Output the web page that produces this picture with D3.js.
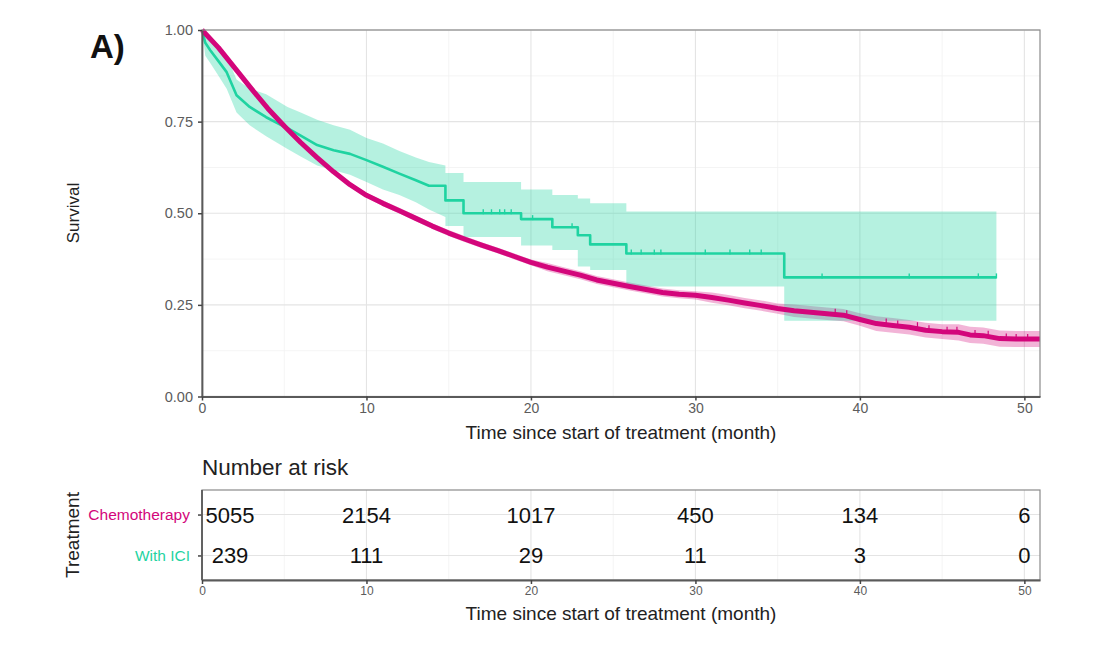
<!DOCTYPE html>
<html>
<head>
<meta charset="utf-8">
<script src="https://cdn.jsdelivr.net/npm/d3@7"></script>
<style>
  body { margin: 0; background: #fff; }
  text { font-family: "Liberation Sans", Arial, sans-serif; }
</style>
</head>
<body>
<div id="chart"></div>
<script>
// Courbe Chemotherapy
const chemoTime  = [0,1,2,3,4,5,6,7,8,9,10,11,12,13,14,15,16,17,18,19,20,21,22,23,24,25,26,27,28,29,30,31,32,33,34,35,36,37,38,39,40,41,42,43,44,45,46,46.7,47.5,48.5,49.5,50.95];
const chemoSurv  = [1.0,0.952,0.896,0.84,0.786,0.738,0.693,0.652,0.613,0.578,0.549,0.527,0.507,0.486,0.465,0.446,0.429,0.413,0.398,0.382,0.366,0.353,0.342,0.331,0.318,0.309,0.300,0.292,0.284,0.279,0.276,0.270,0.263,0.255,0.248,0.240,0.234,0.230,0.226,0.222,0.210,0.199,0.194,0.189,0.181,0.177,0.175,0.168,0.166,0.158,0.157,0.157];
const chemoLower = [1.0,0.948,0.890,0.834,0.780,0.732,0.687,0.646,0.607,0.572,0.543,0.519,0.499,0.478,0.457,0.438,0.421,0.405,0.390,0.374,0.358,0.342,0.331,0.320,0.307,0.298,0.289,0.281,0.273,0.268,0.265,0.256,0.249,0.241,0.234,0.226,0.217,0.213,0.209,0.205,0.193,0.179,0.174,0.169,0.161,0.157,0.153,0.146,0.144,0.136,0.135,0.135];
const chemoUpper = [1.0,0.956,0.902,0.846,0.792,0.744,0.699,0.658,0.619,0.584,0.555,0.535,0.515,0.494,0.473,0.454,0.437,0.421,0.406,0.390,0.374,0.364,0.353,0.342,0.329,0.320,0.311,0.303,0.295,0.290,0.287,0.284,0.277,0.269,0.262,0.254,0.251,0.247,0.243,0.239,0.227,0.219,0.214,0.209,0.201,0.197,0.197,0.190,0.188,0.180,0.179,0.179];
const chemoCensor = [38.5,39.2,41.6,42.3,43.5,44.2,45.3,45.9,47.0,47.8,48.9,49.5,50.2];

// Courbe With ICI (coins des marches répétés)
const iciTime  = [0,0.2,0.5,1,1.5,2.1,2.9,3.9,5.2,6,7,8,9,10,11,12,13,13.8,14.8,14.8,15.9,15.9,19.4,19.4,21.3,21.3,22.85,22.85,23.6,23.6,25.8,25.8,35.4,35.4,48.3];
const iciSurv  = [1,0.965,0.945,0.915,0.885,0.822,0.79,0.762,0.732,0.712,0.686,0.672,0.662,0.645,0.627,0.608,0.59,0.575,0.575,0.535,0.535,0.50,0.50,0.484,0.484,0.462,0.462,0.44,0.44,0.415,0.415,0.39,0.39,0.325,0.325];
const iciUpper = [1,0.99,0.975,0.955,0.93,0.865,0.84,0.825,0.79,0.775,0.755,0.74,0.728,0.705,0.69,0.67,0.652,0.64,0.63,0.61,0.61,0.585,0.585,0.565,0.565,0.55,0.55,0.54,0.54,0.527,0.527,0.505,0.505,0.505,0.505];
const iciLower = [1,0.93,0.91,0.875,0.84,0.775,0.74,0.71,0.675,0.655,0.63,0.617,0.605,0.585,0.565,0.55,0.53,0.51,0.49,0.465,0.465,0.435,0.435,0.412,0.412,0.40,0.40,0.355,0.355,0.345,0.345,0.30,0.30,0.207,0.207];
const iciCensor = [17.1,17.6,18.1,18.4,18.8,20.1,22.5,26.1,26.7,27.5,27.9,30.6,32.1,33.3,34.0,37.7,43.0,47.2,48.3];

// Tableau des effectifs à risque
const groups = ["Chemotherapy", "With ICI"];
const riskTimes = [0, 10, 20, 30, 40, 50];
const chemoRisk = [5055, 2154, 1017, 450, 134, 6];
const iciRisk = [239, 111, 29, 11, 3, 0];

const xTicks = [0, 10, 20, 30, 40, 50];
const yTicks = [0, 0.25, 0.5, 0.75, 1];

const colors = { chemo: "#d3067b", ici: "#1fd3a1" };

const W = 1115, H = 647;
const svg = d3.select("#chart").append("svg")
    .attr("width", W).attr("height", H);
svg.append("rect").attr("width", W).attr("height", H).attr("fill", "#fff");

const x = d3.scaleLinear().domain([0, 50.95]).range([202, 1040]);
const y = d3.scaleLinear().domain([0, 1]).range([396.5, 30]);

// Grille du graphique principal
const grid = svg.append("g");
d3.range(5, 50, 10).forEach(t => {
    grid.append("line").attr("x1", x(t)).attr("x2", x(t)).attr("y1", y(0)).attr("y2", y(1))
        .attr("stroke", "#f1f1f1").attr("stroke-width", 0.8);
});
[0.125, 0.375, 0.625, 0.875].forEach(v => {
    grid.append("line").attr("x1", x(0)).attr("x2", x.range()[1]).attr("y1", y(v)).attr("y2", y(v))
        .attr("stroke", "#f1f1f1").attr("stroke-width", 0.8);
});
xTicks.forEach(t => {
    grid.append("line").attr("x1", x(t)).attr("x2", x(t)).attr("y1", y(0)).attr("y2", y(1))
        .attr("stroke", "#e4e4e4").attr("stroke-width", 1.1);
});
yTicks.forEach(v => {
    grid.append("line").attr("x1", x(0)).attr("x2", x.range()[1]).attr("y1", y(v)).attr("y2", y(v))
        .attr("stroke", "#e4e4e4").attr("stroke-width", 1.1);
});

// Bandes de confiance
const chemoPts = chemoTime.map((t, i) => ({ t, s: chemoSurv[i], lo: chemoLower[i], hi: chemoUpper[i] }));
const iciPts = iciTime.map((t, i) => ({ t, s: iciSurv[i], lo: iciLower[i], hi: iciUpper[i] }));

const band = d3.area().x(d => x(d.t)).y0(d => y(d.lo)).y1(d => y(d.hi));
svg.append("path").datum(chemoPts).attr("d", band)
    .attr("fill", colors.chemo).attr("fill-opacity", 0.3);
svg.append("path").datum(iciPts).attr("d", band)
    .attr("fill", colors.ici).attr("fill-opacity", 0.33);

// Courbes
const line = d3.line().x(d => x(d.t)).y(d => y(d.s));
svg.append("path").datum(iciPts).attr("d", line)
    .attr("fill", "none").attr("stroke", colors.ici).attr("stroke-width", 2.6)
    .attr("stroke-linejoin", "round");
svg.append("path").datum(chemoPts).attr("d", line)
    .attr("fill", "none").attr("stroke", colors.chemo).attr("stroke-width", 5)
    .attr("stroke-linejoin", "round");

// Marques de censure
function stepValue(times, vals, t) {
    let v = vals[0];
    for (let i = 0; i < times.length; i++) if (times[i] <= t) v = vals[i];
    return v;
}
iciCensor.forEach(t => {
    const s = stepValue(iciTime, iciSurv, t);
    svg.append("line").attr("x1", x(t)).attr("x2", x(t)).attr("y1", y(s) - 4).attr("y2", y(s) + 1)
        .attr("stroke", colors.ici).attr("stroke-width", 1.4);
});
chemoCensor.forEach(t => {
    const s = stepValue(chemoTime, chemoSurv, t);
    svg.append("line").attr("x1", x(t)).attr("x2", x(t)).attr("y1", y(s) - 5).attr("y2", y(s))
        .attr("stroke", colors.chemo).attr("stroke-width", 1.2);
});

// Cadre et axes
svg.append("rect").attr("x", x(0)).attr("y", y(1)).attr("width", x.range()[1] - x(0)).attr("height", y(0) - y(1))
    .attr("fill", "none").attr("stroke", "#8a8a8a").attr("stroke-width", 1.2);

function styleAxis(g) {
    g.select(".domain").attr("stroke", "#5a5a5a").attr("stroke-width", 1.8);
    g.selectAll(".tick line").attr("stroke", "#444").attr("stroke-width", 1.5);
    g.selectAll(".tick text").attr("fill", "#5c5c5c")
        .style("font-family", "'Liberation Sans', Arial, sans-serif");
}

svg.append("g").attr("transform", `translate(${x(0)},0)`)
    .call(d3.axisLeft(y).tickValues(yTicks).tickFormat(d3.format(".2f")).tickSize(4).tickSizeOuter(0).tickPadding(5))
    .call(styleAxis)
    .selectAll(".tick text").style("font-size", "14.5px");

svg.append("g").attr("transform", `translate(0,${y(0)})`)
    .call(d3.axisBottom(x).tickValues(xTicks).tickSize(4).tickSizeOuter(0).tickPadding(3))
    .call(styleAxis)
    .selectAll(".tick text").style("font-size", "14px");

svg.append("text").attr("x", 621).attr("y", 439).attr("text-anchor", "middle")
    .style("font-size", "19px").attr("fill", "#222")
    .text("Time since start of treatment (month)");

svg.append("text").attr("transform", "translate(79,213) rotate(-90)").attr("text-anchor", "middle")
    .style("font-size", "17px").attr("fill", "#222").text("Survival");

svg.append("text").attr("x", 90).attr("y", 58)
    .style("font-size", "33px").style("font-weight", "bold").attr("fill", "#111").text("A)");

// Tableau "Number at risk"
const yr = d3.scalePoint().domain(groups).range([490, 580]).padding(0.6);
const rTop = 490, rBottom = 580;

svg.append("text").attr("x", 202).attr("y", 475)
    .style("font-size", "22.5px").attr("fill", "#222").text("Number at risk");

const rgrid = svg.append("g");
d3.range(5, 50, 10).forEach(t => {
    rgrid.append("line").attr("x1", x(t)).attr("x2", x(t)).attr("y1", rTop).attr("y2", rBottom)
        .attr("stroke", "#f1f1f1").attr("stroke-width", 0.8);
});
xTicks.forEach(t => {
    rgrid.append("line").attr("x1", x(t)).attr("x2", x(t)).attr("y1", rTop).attr("y2", rBottom)
        .attr("stroke", "#e4e4e4").attr("stroke-width", 1.1);
});
groups.forEach(g => {
    rgrid.append("line").attr("x1", x(0)).attr("x2", x.range()[1]).attr("y1", yr(g)).attr("y2", yr(g))
        .attr("stroke", "#e4e4e4").attr("stroke-width", 1.1);
});

svg.append("rect").attr("x", x(0)).attr("y", rTop).attr("width", x.range()[1] - x(0)).attr("height", rBottom - rTop)
    .attr("fill", "none").attr("stroke", "#8a8a8a").attr("stroke-width", 1.2);

const riskRows = [
    { g: "Chemotherapy", vals: chemoRisk },
    { g: "With ICI", vals: iciRisk }
];
riskRows.forEach(r => {
    r.vals.forEach((v, i) => {
        const t = riskTimes[i];
        svg.append("text")
            .attr("x", t === 0 ? x(t) + 28 : x(t))
            .attr("y", yr(r.g) + 8)
            .attr("text-anchor", "middle")
            .style("font-size", "22px").attr("fill", "#111")
            .text(v);
    });
});

const yrAxis = svg.append("g").attr("transform", `translate(${x(0)},0)`)
    .call(d3.axisLeft(yr).tickSize(4).tickSizeOuter(0).tickPadding(8))
    .call(styleAxis);
yrAxis.select(".domain").remove();
yrAxis.selectAll(".tick text").style("font-size", "15.5px")
    .attr("fill", d => d === "Chemotherapy" ? colors.chemo : colors.ici);
svg.append("line").attr("x1", x(0)).attr("x2", x(0)).attr("y1", rTop).attr("y2", rBottom)
    .attr("stroke", "#5a5a5a").attr("stroke-width", 1.8);

svg.append("g").attr("transform", `translate(0,${rBottom})`)
    .call(d3.axisBottom(x).tickValues(xTicks).tickSize(4).tickSizeOuter(0).tickPadding(2))
    .call(styleAxis)
    .selectAll(".tick text").style("font-size", "12px");

svg.append("text").attr("x", 621).attr("y", 620).attr("text-anchor", "middle")
    .style("font-size", "19px").attr("fill", "#222")
    .text("Time since start of treatment (month)");

svg.append("text").attr("transform", "translate(79,535) rotate(-90)").attr("text-anchor", "middle")
    .style("font-size", "19px").attr("fill", "#222").text("Treatment");
</script>
</body>
</html>
